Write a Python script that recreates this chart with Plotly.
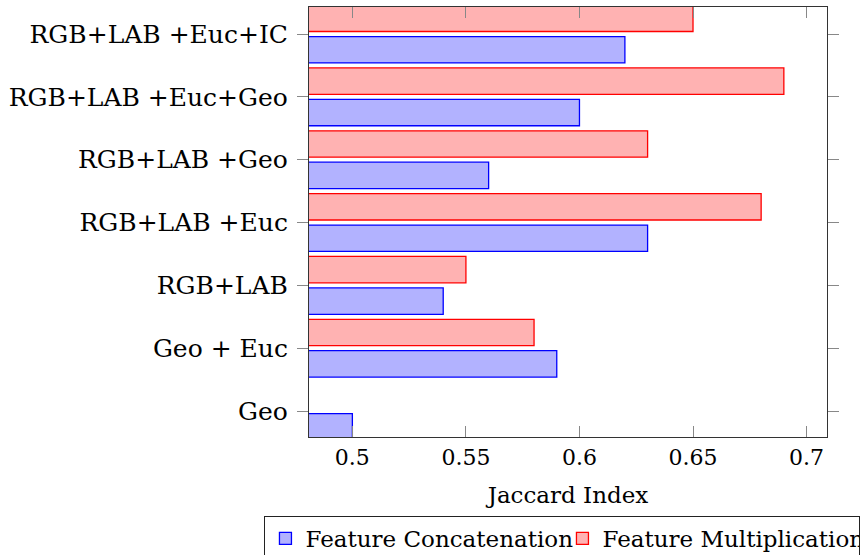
import plotly.graph_objects as go

categories = ["Geo", "Geo + Euc", "RGB+LAB", "RGB+LAB +Euc", "RGB+LAB +Geo",
              "RGB+LAB +Euc+Geo", "RGB+LAB +Euc+IC"]
concatenation = [0.50, 0.59, 0.54, 0.63, 0.56, 0.60, 0.62]
multiplication = [None, 0.58, 0.55, 0.68, 0.63, 0.69, 0.65]
x_ticks = [0.5, 0.55, 0.6, 0.65, 0.7]
x_ticklabels = ["0.5", "0.55", "0.6", "0.65", "0.7"]

FONT = "DejaVu Serif"

fig = go.Figure()
fig.add_trace(go.Bar(
    y=categories, x=concatenation, orientation="h", name="Feature Concatenation",
    marker=dict(color="rgba(0,0,255,0.3)", line=dict(color="#0000ff", width=1.3)),
))
fig.add_trace(go.Bar(
    y=categories, x=multiplication, orientation="h", name="Feature Multiplication",
    marker=dict(color="rgba(255,0,0,0.3)", line=dict(color="#ff0000", width=1.3)),
))

fig.update_layout(
    width=867, height=555,
    margin=dict(l=308.7, r=40, t=6.5, b=118, autoexpand=False),
    paper_bgcolor="white", plot_bgcolor="white",
    barmode="group", bargap=0.0, bargroupgap=0.16,
    font=dict(family=FONT, size=23, color="black"),
    showlegend=True,
    legend=dict(
        orientation="h", x=-0.086, xanchor="left", y=-0.1835, yanchor="top",
        bordercolor="#222", borderwidth=1, bgcolor="white",
        font=dict(family=FONT, size=23, color="black"), traceorder="normal",
        itemwidth=30, tracegroupgap=0, entrywidth=252,
    ),
)
fig.update_xaxes(
    range=[0.4809, 0.709], tickvals=x_ticks, ticktext=x_ticklabels,
    ticks="inside", ticklen=11, tickcolor="#888", tickwidth=1,
    showline=True, linecolor="#333", linewidth=1.2, mirror="ticks",
    showgrid=False, zeroline=False, automargin=False,
    title=dict(text="Jaccard Index", standoff=18, font=dict(family=FONT, size=23)),
    tickfont=dict(family=FONT, size=22),
)
fig.update_yaxes(
    type="category", categoryorder="array", categoryarray=categories,
    range=[-0.413, 6.43],
    ticks="outside", ticklen=11, tickcolor="#888", tickwidth=1,
    showline=True, linecolor="#333", linewidth=1.2, mirror="ticks",
    showgrid=False, zeroline=False, automargin=False,
    ticklabelstandoff=4,
    tickfont=dict(family=FONT, size=25),
)

fig.write_html("out.html")
